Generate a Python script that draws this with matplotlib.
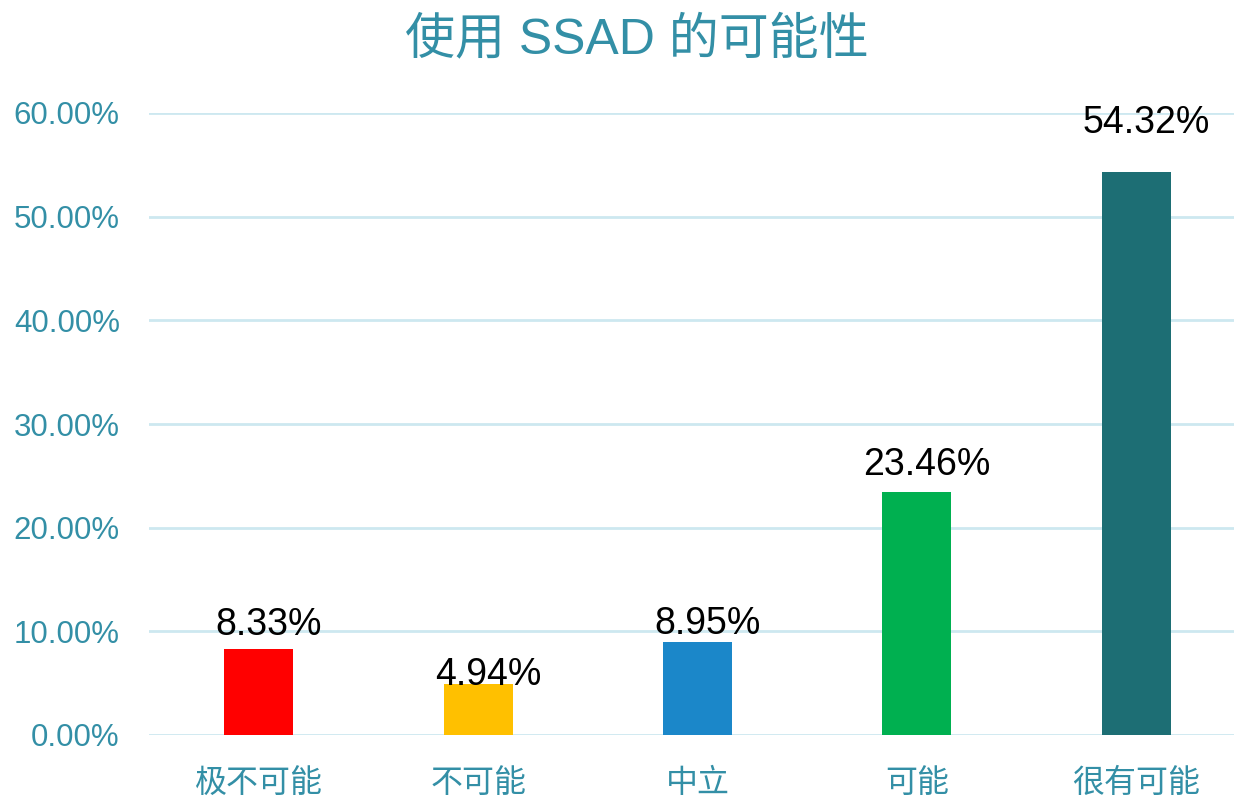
import matplotlib
matplotlib.use("Agg")
import matplotlib.pyplot as plt
from matplotlib.ticker import FuncFormatter

categories = ["极不可能", "不可能", "中立", "可能", "很有可能"]
values = [8.33, 4.94, 8.95, 23.46, 54.32]
colors = ["#FF0000", "#FFC000", "#1B87C9", "#00B050", "#1D6E74"]
label_offsets_px = [14, -1, 8, 17, 39]
title = "使用 SSAD 的可能性"

teal = "#338FA6"
grid_c = "#CDE8F0"
fam = ["Liberation Sans", "Noto Sans CJK SC", "DejaVu Sans"]
plt.rcParams["font.family"] = fam

W, H, dpi = 1234, 799, 100
fig = plt.figure(figsize=(W / dpi, H / dpi), dpi=dpi)
left, right, top, bottom = 149, 1246, 113, 735
ax = fig.add_axes([left / W, 1 - bottom / H, (right - left) / W, (bottom - top) / H])

x = list(range(len(categories)))
ax.bar(x, values, width=0.315, color=colors, zorder=2)
ax.set_xlim(-0.5, 4.5)
ax.set_ylim(0, 60)
ax.set_yticks([0, 10, 20, 30, 40, 50, 60])
ax.yaxis.set_major_formatter(FuncFormatter(lambda v, p: f"{v:.2f}%"))
ax.grid(axis="y", color=grid_c, linewidth=2, zorder=0)
ax.set_axisbelow(True)
for s in ax.spines.values():
    s.set_visible(False)
ax.tick_params(axis="y", length=0, pad=21, labelsize=22.5, labelcolor=teal)
ax.tick_params(axis="x", length=0, pad=23, labelsize=23, labelcolor=teal)
ax.set_xticks(x)
ax.set_xticklabels(categories, family=["Noto Sans CJK SC"])
for lab in ax.get_yticklabels():
    lab.set_family(fam)

for xi, v, off in zip(x, values, label_offsets_px):
    ax.annotate(f"{v:.2f}%", (xi, v), xytext=(10 * 0.72, off * 0.72), textcoords="offset points",
                ha="center", va="baseline", fontsize=27, color="black", zorder=3)

fig.text(637 / W, 1 - 40 / H, title, ha="center", va="center", fontsize=36, color=teal, family=fam)

fig.savefig("out.png", dpi=dpi)
